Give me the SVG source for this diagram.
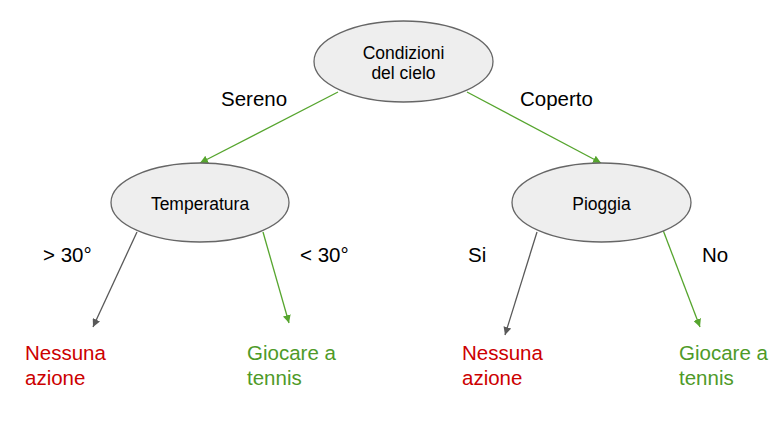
<svg xmlns="http://www.w3.org/2000/svg" width="783" height="434" viewBox="0 0 783 434">
<style>
.node ellipse{fill:#eeeeee;stroke:#666666;stroke-width:1.3}
.nt{font-family:"Liberation Sans",Arial,sans-serif;font-size:17.5px;fill:#000;text-anchor:middle}
.lbl{font-family:"Liberation Sans",Arial,sans-serif;font-size:20.5px;fill:#000}
.leaf{font-family:"Liberation Sans",Arial,sans-serif;font-size:20.5px}
.red{fill:#cc0000}
.grn{fill:#4e9a28}
.eg{stroke:#56a52e;stroke-width:1.3;fill:none;marker-end:url(#ag)}
.ek{stroke:#595959;stroke-width:1.3;fill:none;marker-end:url(#ak)}
</style>
<defs>
<marker id="ag" viewBox="0 0 10 10" refX="10" refY="5" markerWidth="8" markerHeight="8" markerUnits="userSpaceOnUse" orient="auto"><path d="M0,0 L10,5 L0,10 z" fill="#56a52e"/></marker>
<marker id="ak" viewBox="0 0 10 10" refX="10" refY="5" markerWidth="8" markerHeight="8" markerUnits="userSpaceOnUse" orient="auto"><path d="M0,0 L10,5 L0,10 z" fill="#595959"/></marker>
</defs>
<rect width="783" height="434" fill="#ffffff"/>
<g id="connectors">
<line class="eg" x1="338" y1="92" x2="200" y2="163"/>
<line class="eg" x1="467" y1="92" x2="601" y2="163"/>
<line class="ek" x1="137" y1="232" x2="93" y2="327"/>
<line class="eg" x1="263" y1="232" x2="289" y2="323"/>
<line class="ek" x1="537" y1="232" x2="505" y2="335"/>
<line class="eg" x1="663" y1="230" x2="700" y2="327"/>
</g>
<g id="labels">
<text class="lbl" x="221" y="106">Sereno</text>
<text class="lbl" x="520" y="106">Coperto</text>
<text class="lbl" x="43" y="262">&gt; 30°</text>
<text class="lbl" x="300" y="262">&lt; 30°</text>
<text class="lbl" x="468" y="262">Si</text>
<text class="lbl" x="702" y="262">No</text>
</g>
<g id="n-cielo" class="node">
<ellipse cx="403.5" cy="61.5" rx="89.5" ry="40.5"/>
<text class="nt" x="403.5" y="59">Condizioni</text>
<text class="nt" x="403.5" y="79">del cielo</text>
</g>
<g id="n-temperatura" class="node">
<ellipse cx="200" cy="202.5" rx="89" ry="39.5"/>
<text class="nt" x="200" y="210">Temperatura</text>
</g>
<g id="n-pioggia" class="node">
<ellipse cx="601.5" cy="202.5" rx="89.5" ry="39.5"/>
<text class="nt" x="601.5" y="210">Pioggia</text>
</g>
<g id="leaf-1">
<text class="leaf red" x="25" y="360">Nessuna</text>
<text class="leaf red" x="25" y="385">azione</text>
</g>
<g id="leaf-2">
<text class="leaf grn" x="247" y="360">Giocare a</text>
<text class="leaf grn" x="247" y="385">tennis</text>
</g>
<g id="leaf-3">
<text class="leaf red" x="462" y="360">Nessuna</text>
<text class="leaf red" x="462" y="385">azione</text>
</g>
<g id="leaf-4">
<text class="leaf grn" x="679" y="360">Giocare a</text>
<text class="leaf grn" x="679" y="385">tennis</text>
</g>
</svg>
